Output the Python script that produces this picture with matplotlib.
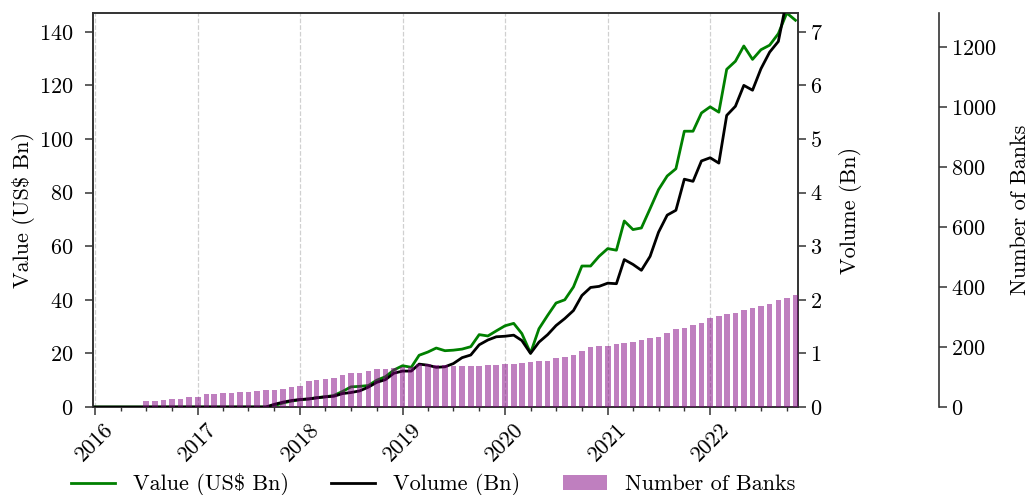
import matplotlib
matplotlib.use("Agg")
import matplotlib.pyplot as plt
import matplotlib.dates as mdates
from matplotlib.patches import Patch
from matplotlib.lines import Line2D
import pandas as pd
import numpy as np

plt.rcParams['font.family'] = ['cmr10', 'DejaVu Serif']
plt.rcParams['mathtext.fontset'] = 'cm'
plt.rcParams['axes.formatter.use_mathtext'] = True
plt.rcParams['font.size'] = 16

months = pd.date_range('2016-01-01', '2022-11-01', freq='MS')

value_usd_bn = [0]*21 + [
    0.5, 1.5, 2.2, 2.7, 3.0, 3.5, 3.8, 4.3, 5.8, 7.5,
    7.7, 8.0, 10.0, 11.3, 13.8, 15.4, 14.8, 19.3, 20.5, 22.0,
    21.0, 21.2, 21.6, 22.5, 27.0, 26.5, 28.4, 30.3, 31.2, 27.4,
    20.1, 29.2, 34.2, 38.8, 40.0, 44.8, 52.6, 52.6, 56.2, 59.1,
    58.5, 69.4, 66.2, 66.8, 74.0, 81.1, 86.2, 88.9, 102.9, 102.9,
    109.7, 112.0, 110.0, 126.0, 129.0, 134.7, 129.7, 133.3, 135.0, 139.3,
    147.0, 144.3]

volume_bn = [0]*21 + [
    0.05, 0.09, 0.12, 0.14, 0.15, 0.17, 0.19, 0.20, 0.25, 0.27,
    0.30, 0.37, 0.46, 0.51, 0.63, 0.67, 0.67, 0.80, 0.78, 0.74,
    0.75, 0.81, 0.92, 0.97, 1.16, 1.25, 1.31, 1.32, 1.34, 1.24,
    1.00, 1.21, 1.35, 1.52, 1.65, 1.80, 2.08, 2.23, 2.25, 2.31,
    2.30, 2.75, 2.66, 2.55, 2.81, 3.26, 3.58, 3.67, 4.25, 4.21,
    4.59, 4.65, 4.55, 5.44, 5.61, 6.00, 5.91, 6.31, 6.62, 6.82,
    7.60, 7.70]

number_of_banks = [0]*6 + [
    19, 19, 23, 25, 28, 34, 34, 42, 42, 47,
    47, 51, 51, 53, 56, 58, 60, 67, 71, 86,
    89, 94, 98, 108, 112, 112, 119, 126, 126, 131,
    134, 134, 142, 142, 141, 141, 138, 138, 138, 138,
    140, 140, 142, 145, 147, 151, 154, 154, 162, 167,
    172, 188, 199, 205, 205, 211, 214, 218, 223, 229,
    234, 248, 259, 262, 273, 279, 296, 303, 312, 314,
    323, 329, 338, 344, 357, 363, 374]

fig = plt.figure(figsize=(10.29, 4.95), dpi=100)
ax = fig.add_axes([0.0904, 0.1778, 0.6851, 0.7959])
ax2 = ax.twinx()
ax3 = ax.twinx()
ax3.spines['right'].set_position(('axes', 1.2))
for s in ['top', 'bottom', 'left']:
    ax3.spines[s].set_visible(False)

spine_col = '#333333'
for a in (ax, ax2, ax3):
    for s in a.spines.values():
        s.set_color(spine_col)
        s.set_linewidth(1.2)
    a.tick_params(which='major', direction='out', length=5.5, width=1.1, color=spine_col)
    a.tick_params(which='minor', direction='out', length=3, width=1.0, color=spine_col)
ax.tick_params(axis='y', pad=8.5)

ax.plot(months, value_usd_bn, color='green', lw=2.0, zorder=3)
ax2.plot(months, volume_bn, color='black', lw=2.0, zorder=3)
ax3.bar(months, number_of_banks, width=20, color='purple', alpha=0.5)

ax.set_xlim(months[0] - pd.Timedelta(days=7), months[-1] + pd.Timedelta(days=9))
ax.set_ylim(0, 147)
ax2.set_ylim(0, 7.35)
ax3.set_ylim(0, 1315)

ax.set_yticks(np.arange(0, 141, 20))
ax2.set_yticks(np.arange(0, 8, 1))
ax3.set_yticks(np.arange(0, 1201, 200))

ax.xaxis.set_major_locator(mdates.YearLocator())
ax.xaxis.set_minor_locator(mdates.MonthLocator(bymonth=[1, 4, 7, 10]))
ax.xaxis.set_major_formatter(mdates.DateFormatter('%Y'))
for lbl in ax.get_xticklabels():
    lbl.set_rotation(45)

ax.grid(axis='x', which='major', linestyle='--', color='#d0d0d0', lw=0.9)

ax.set_ylabel('Value (US$ Bn)', labelpad=3)
ax2.set_ylabel('Volume (Bn)', labelpad=11)
ax3.set_ylabel('Number of Banks', labelpad=10)

handles = [Line2D([], [], color='green', lw=2.0),
           Line2D([], [], color='black', lw=2.0),
           Patch(facecolor='purple', alpha=0.5)]
labels = ['Value (US$ Bn)', 'Volume (Bn)', 'Number of Banks']
ax.legend(handles, labels, loc='center', bbox_to_anchor=(0.482, -0.198), ncol=3,
          frameon=False, handlelength=2.0, handletextpad=0.8, columnspacing=1.9)

fig.savefig('out.png', dpi=100)
